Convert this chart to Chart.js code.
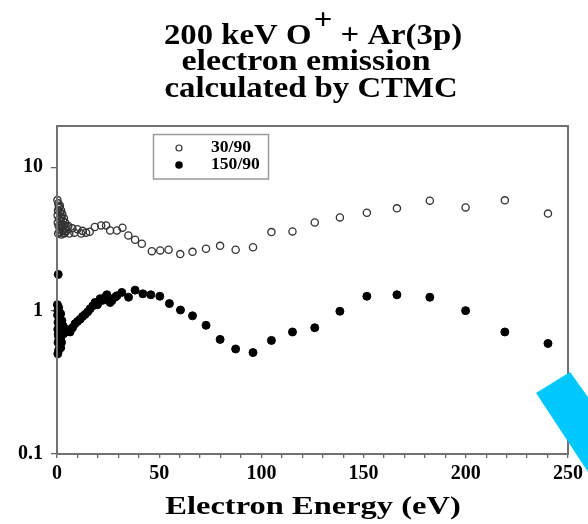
<!DOCTYPE html>
<html>
<head>
<meta charset="utf-8">
<script src="https://cdn.jsdelivr.net/npm/chart.js@4.4.1/dist/chart.umd.min.js"></script>
<style>
  html, body { margin: 0; padding: 0; background: #fff; }
  #wrap { width: 588px; height: 524px; position: relative; }
</style>
</head>
<body>
<div id="wrap"><canvas id="chart" width="588" height="524"></canvas></div>
<script>
'use strict';

// --- data (energy in eV, yield in arb. units) ---
var seriesLabels = ['30/90', '150/90'];

var openE = [0.2, 0.6, 1.1, 0.5, 1.6, 0.3, 2.2, 1.0, 3.0, 0.4, 2.0, 0.8, 2.6, 3.6, 1.5, 4.2, 2.8, 1.2,
  3.8, 0.6, 4.6, 2.2, 5.2, 3.4, 6.0, 1.4, 2.0, 2.6, 3.4, 4.0, 1.8, 2.4, 0.9, 1.3, 1.7,
  5.5, 7.5, 10.0, 12.5, 8.5, 11.8, 14.2, 16.0, 18.5, 21.6, 24.0,
  26.0, 29.3, 32.0, 34.9, 38.2, 41.5, 46.4, 50.5, 54.6, 60.3, 66.3, 72.9, 79.8, 87.4, 95.9, 104.9,
  115.2, 126.1, 138.4, 151.6, 166.3, 182.4, 199.9, 219.1, 240.2];
var openV = [5.9, 5.6, 5.2, 5.0, 4.8, 4.6, 4.5, 4.35, 4.2, 4.1, 4.0, 3.9, 3.85, 3.95, 3.7, 3.75, 3.6, 3.55,
  3.5, 3.45, 3.6, 3.4, 3.83, 3.45, 3.45, 5.4, 5.0, 4.7, 4.4, 4.1, 4.2, 3.95, 5.3, 4.9, 4.5,
  3.9, 3.75, 3.7, 3.6, 3.5, 3.45, 3.5, 3.55, 3.83, 3.93, 3.93,
  3.62, 3.62, 3.79, 3.34, 3.12, 2.93, 2.6, 2.63, 2.66, 2.48, 2.57, 2.7, 2.83, 2.66, 2.77, 3.53,
  3.57, 4.12, 4.47, 4.82, 5.17, 5.85, 5.25, 5.88, 4.75];

var filledE = [0.6, 0.2, 0.8, 0.4, 1.2, 0.3, 1.0, 1.6, 0.5, 2.0, 0.9, 2.4, 0.4, 1.5, 2.8, 0.6, 2.0, 3.2,
  1.1, 3.6, 1.6, 0.5, 1.3, 4.2, 0.8, 0.4, 1.8, 2.4, 3.0, 1.4, 2.2, 1.8, 0.9,
  4.6, 5.2, 6.4, 7.6, 8.8, 10.0, 11.3, 12.5, 13.7, 15.0,
  16.2, 17.5, 18.6, 19.8, 21.1, 22.4, 23.5, 24.4, 26.0, 26.8, 28.4, 29.3, 31.7, 35.0, 38.2, 42.0,
  45.9, 50.3, 55.0, 60.4, 66.3, 72.9, 79.8, 87.4, 95.9, 104.9, 115.2, 126.1, 138.4, 151.6, 166.3,
  182.4, 199.9, 219.1, 240.2];
var filledV = [1.79, 1.1, 1.05, 1.0, 0.97, 0.93, 0.9, 0.86, 0.83, 0.8, 0.77, 0.76, 0.74, 0.71, 0.72, 0.68, 0.66, 0.69,
  0.63, 0.7, 0.62, 0.6, 0.57, 0.72, 0.53, 0.5, 0.95, 0.85, 0.78, 0.88, 0.6, 0.55, 0.65,
  0.74, 0.73, 0.71, 0.76, 0.81, 0.84, 0.87, 0.91, 0.94, 0.98,
  1.03, 1.08, 1.14, 1.1, 1.21, 1.18, 1.24, 1.29, 1.14, 1.17, 1.24, 1.27, 1.34, 1.24, 1.39, 1.31,
  1.29, 1.26, 1.12, 1.01, 0.92, 0.79, 0.63, 0.54, 0.51, 0.62, 0.71, 0.76, 0.99, 1.26, 1.29,
  1.24, 1.0, 0.71, 0.59];

var xTickLabels = [0, 50, 100, 150, 200, 250];
var yTickValues = [0.1, 1, 10];

var titleLines = ['200 keV O', '+', ' + Ar(3p)', 'electron emission', 'calculated by CTMC'];
var xTitle = 'Electron Energy (eV)';

var SERIF = "'Liberation Serif', 'Times New Roman', serif";

function toPoints(xs, ys) {
  var out = [];
  for (var i = 0; i < xs.length; i++) out.push({ x: xs[i], y: ys[i] });
  return out;
}

// text drawn with a horizontal stretch, centred on cx
function stretchedText(ctx, text, cx, y, size, sx) {
  ctx.save();
  ctx.font = 'bold ' + size + 'px ' + SERIF;
  var w = ctx.measureText(text).width * sx;
  ctx.translate(cx - w / 2, y);
  ctx.scale(sx, 1);
  ctx.textAlign = 'left';
  ctx.textBaseline = 'alphabetic';
  ctx.fillText(text, 0, 0);
  ctx.restore();
}

var decor = {
  id: 'decor',
  afterDraw: function (chart) {
    var ctx = chart.ctx;
    var a = chart.chartArea;
    ctx.save();

    // frame
    ctx.strokeStyle = '#727272';
    ctx.lineWidth = 2;
    ctx.strokeRect(a.left, a.top, a.right - a.left, a.bottom - a.top);

    ctx.fillStyle = '#000';

    // title line 1 with superscript +
    var size = 29, sx = 1.13;
    ctx.save();
    ctx.font = 'bold ' + size + 'px ' + SERIF;
    var w1 = ctx.measureText(titleLines[0]).width;
    var w2 = ctx.measureText(titleLines[1]).width;
    var w3 = ctx.measureText(titleLines[2]).width;
    var tot = (w1 + w2 + w3 + 2) * sx;
    ctx.translate(313 - tot / 2, 44);
    ctx.scale(sx, 1);
    ctx.textBaseline = 'alphabetic';
    ctx.fillText(titleLines[0], 0, 0);
    ctx.fillText(titleLines[1], w1 + 2, -15);
    ctx.fillText(titleLines[2], w1 + w2 + 2, 0);
    ctx.restore();

    stretchedText(ctx, titleLines[3], 306, 70, size, sx + 0.04);
    stretchedText(ctx, titleLines[4], 311, 97, size, sx);

    // axis title
    stretchedText(ctx, xTitle, 313, 514, 26, 1.25);

    // legend
    ctx.strokeStyle = '#9a9a9a';
    ctx.lineWidth = 1.5;
    ctx.strokeRect(153.5, 134.5, 115, 44.5);
    ctx.lineWidth = 1.2;
    ctx.strokeStyle = '#333';
    ctx.beginPath();
    ctx.arc(179, 148, 3, 0, Math.PI * 2);
    ctx.stroke();
    ctx.beginPath();
    ctx.arc(179, 165, 3.8, 0, Math.PI * 2);
    ctx.fill();
    ctx.save();
    ctx.font = 'bold 16px ' + SERIF;
    ctx.textBaseline = 'middle';
    ctx.textAlign = 'left';
    ctx.translate(211, 0);
    ctx.scale(1.1, 1);
    ctx.fillText(seriesLabels[0], 0, 148);
    ctx.fillText(seriesLabels[1], 0, 165);
    ctx.restore();

    // cyan slide shape in the corner
    ctx.fillStyle = '#00c8fc';
    ctx.beginPath();
    ctx.moveTo(536, 393);
    ctx.lineTo(570, 372);
    ctx.lineTo(588, 397);
    ctx.lineTo(588, 472);
    ctx.closePath();
    ctx.fill();

    ctx.restore();
  }
};

new Chart(document.getElementById('chart'), {
  type: 'scatter',
  data: {
    datasets: [{
      label: seriesLabels[0],
      data: toPoints(openE, openV),
      pointStyle: 'circle',
      pointRadius: 3.6,
      pointBorderWidth: 1.3,
      borderColor: '#333',
      backgroundColor: 'rgba(255,255,255,0)',
      clip: false
    }, {
      label: seriesLabels[1],
      data: toPoints(filledE, filledV),
      pointStyle: 'circle',
      pointRadius: 4,
      pointBorderWidth: 1,
      borderColor: '#000',
      backgroundColor: '#000',
      clip: false
    }]
  },
  options: {
    responsive: false,
    animation: false,
    devicePixelRatio: 1,
    layout: { padding: { top: 126, right: 20, left: 0, bottom: 0 } },
    plugins: {
      legend: { display: false },
      tooltip: { enabled: false },
      title: { display: false }
    },
    scales: {
      x: {
        type: 'linear',
        min: 0,
        max: 250,
        afterFit: function (s) { s.height = 70; },
        ticks: {
          stepSize: 10,
          autoSkip: false,
          maxRotation: 0,
          padding: 4,
          color: '#000',
          font: { family: SERIF, size: 20, weight: 'bold' },
          callback: function (v) { return xTickLabels.indexOf(v) >= 0 ? String(v) : ''; }
        },
        grid: { drawOnChartArea: false, drawTicks: true, tickLength: 4, color: '#666', lineWidth: 1.3 },
        border: { display: true, color: '#6b6b6b', width: 2 }
      },
      y: {
        type: 'logarithmic',
        min: 0.1,
        max: 19.4,
        afterFit: function (s) { s.width = 57; },
        afterBuildTicks: function (s) {
          s.ticks = yTickValues.map(function (v) { return { value: v }; });
        },
        ticks: {
          padding: 8,
          color: '#000',
          font: { family: SERIF, size: 20, weight: 'bold' },
          callback: function (v) { return v < 1 ? v.toFixed(1) : String(v); }
        },
        grid: { drawOnChartArea: false, drawTicks: true, tickLength: 6, color: '#666', lineWidth: 1.3 },
        border: { display: true, color: '#6b6b6b', width: 2 }
      }
    }
  },
  plugins: [decor]
});
</script>
</body>
</html>
